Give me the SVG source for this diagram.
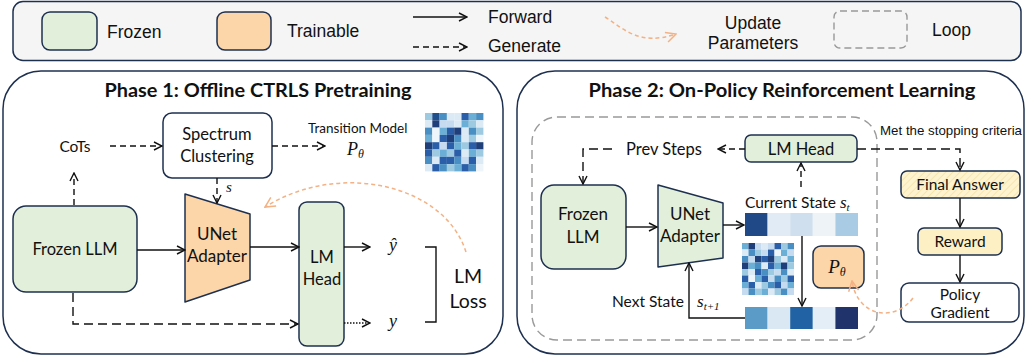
<svg xmlns="http://www.w3.org/2000/svg" width="1026" height="360" viewBox="0 0 1026 360">
<defs>
<style>
.nd{stroke:#1e3050;stroke-width:1.5}
.fr{fill:#e2efda}
.tr{fill:#fcd5a8}
.wh{fill:#ffffff}
.ln{fill:none;stroke:#111;stroke-width:1.4}
.da{fill:none;stroke:#111;stroke-width:1.4;stroke-dasharray:6 4}
.dl{fill:none;stroke:#111;stroke-width:1.4;stroke-dasharray:9 5}
.dot{fill:none;stroke:#111;stroke-width:1.4;stroke-dasharray:1.5 1.5}
.or{fill:none;stroke:#f4b183;stroke-width:1.5;stroke-dasharray:4 3}
.t{font-family:Lato,"Liberation Sans",sans-serif;fill:#111}
.lg{font-family:"Liberation Sans",sans-serif;font-size:17.5px;fill:#111}
.m{font-family:"Liberation Serif",serif;font-style:italic;fill:#111}
.ti{font-family:Lato,"Liberation Sans",sans-serif;font-weight:bold;font-size:18px;fill:#111}
</style>
<marker id="ah" viewBox="0 0 10 10" refX="9" refY="5" markerWidth="10" markerHeight="10" markerUnits="userSpaceOnUse" orient="auto">
<path d="M1,1 L9,5 L1,9" fill="none" stroke="#111" stroke-width="1.4"/>
</marker>
<marker id="oh" viewBox="0 0 12 12" refX="11" refY="6" markerWidth="12" markerHeight="12" markerUnits="userSpaceOnUse" orient="auto">
<path d="M1,1 L11,6 L1,11" fill="none" stroke="#f4b183" stroke-width="1.5"/>
</marker>
<pattern id="hatch" width="5" height="5" patternUnits="userSpaceOnUse" patternTransform="rotate(45)">
<rect width="5" height="5" fill="#fdf3cf"/>
<line x1="0" y1="0" x2="0" y2="5" stroke="#f3e2a6" stroke-width="1.5"/>
</pattern>
</defs>

<g id="legend">
<rect x="13" y="1.5" width="1008" height="59" rx="10" fill="#f5f5f5" stroke="#1e3050" stroke-width="1.5"/>
<rect x="42" y="12" width="55" height="38" rx="8" class="nd fr"/>
<text x="107" y="38" class="lg">Frozen</text>
<rect x="217" y="12" width="54" height="38" rx="8" class="nd tr"/>
<text x="287" y="37" class="lg">Trainable</text>
<line x1="413" y1="17" x2="467" y2="17" class="ln" marker-end="url(#ah)"/>
<text x="488" y="23" class="lg">Forward</text>
<line x1="413" y1="47" x2="467" y2="47" class="da" marker-end="url(#ah)"/>
<text x="488" y="52" class="lg">Generate</text>
<path d="M605,17 C625,30 640,46 676,34" class="or" marker-end="url(#oh)"/>
<text x="753" y="29" class="lg" text-anchor="middle">Update</text>
<text x="753" y="49" class="lg" text-anchor="middle">Parameters</text>
<rect x="834" y="11" width="73" height="37" rx="6" fill="none" stroke="#999" stroke-width="1.4" stroke-dasharray="7 4"/>
<text x="932" y="36" class="lg">Loop</text>
</g>

<g id="phase1">
<rect x="3" y="71" width="500" height="283" rx="38" fill="#fff" stroke="#1e3050" stroke-width="1.5"/>
<text x="258" y="97" class="ti" text-anchor="middle" textLength="307" lengthAdjust="spacingAndGlyphs">Phase 1: Offline CTRLS Pretraining</text>
</g>

<g id="phase2">
<rect x="517" y="71" width="507" height="283" rx="38" fill="#fff" stroke="#1e3050" stroke-width="1.5"/>
<text x="782" y="97" class="ti" text-anchor="middle" textLength="387" lengthAdjust="spacingAndGlyphs">Phase 2: On-Policy Reinforcement Learning</text>
<rect x="532" y="117" width="345" height="223" rx="25" fill="none" stroke="#999" stroke-width="1.4" stroke-dasharray="9 5"/>
</g>

<g id="cots"><text x="75" y="152" class="t" font-size="15.5" text-anchor="middle">CoTs</text></g>

<g id="spectrum">
<rect x="163" y="113" width="109" height="65" rx="9" class="nd wh"/>
<text x="217" y="140" class="t" font-size="16.5" text-anchor="middle">Spectrum</text>
<text x="217" y="162" class="t" font-size="16.5" text-anchor="middle">Clustering</text>
</g>

<g id="transition">
<text x="308" y="133" class="t" font-size="13.5">Transition Model</text>
<text x="347" y="155" class="m" font-size="18">P<tspan font-size="12" dy="3">θ</tspan></text>
</g>

<g id="heatmap1">
<rect x="425" y="113" width="7.3" height="7.3" fill="#9ecae1"/><rect x="432.3" y="113" width="7.3" height="7.3" fill="#1f4e8c"/><rect x="439.6" y="113" width="7.3" height="7.3" fill="#4a8fc4"/><rect x="446.9" y="113" width="7.3" height="7.3" fill="#dceaf6"/><rect x="454.2" y="113" width="7.3" height="7.3" fill="#dceaf6"/><rect x="461.5" y="113" width="7.3" height="7.3" fill="#2a5ea8"/><rect x="468.8" y="113" width="7.3" height="7.3" fill="#6baed6"/><rect x="476.1" y="113" width="7.3" height="7.3" fill="#4a8fc4"/>
<rect x="425" y="120.3" width="7.3" height="7.3" fill="#dceaf6"/><rect x="432.3" y="120.3" width="7.3" height="7.3" fill="#1f3f7a"/><rect x="439.6" y="120.3" width="7.3" height="7.3" fill="#c6dbef"/><rect x="446.9" y="120.3" width="7.3" height="7.3" fill="#c6dbef"/><rect x="454.2" y="120.3" width="7.3" height="7.3" fill="#dceaf6"/><rect x="461.5" y="120.3" width="7.3" height="7.3" fill="#6baed6"/><rect x="468.8" y="120.3" width="7.3" height="7.3" fill="#9ecae1"/><rect x="476.1" y="120.3" width="7.3" height="7.3" fill="#dceaf6"/>
<rect x="425" y="127.6" width="7.3" height="7.3" fill="#4a8fc4"/><rect x="432.3" y="127.6" width="7.3" height="7.3" fill="#eef5fb"/><rect x="439.6" y="127.6" width="7.3" height="7.3" fill="#6baed6"/><rect x="446.9" y="127.6" width="7.3" height="7.3" fill="#2a5ea8"/><rect x="454.2" y="127.6" width="7.3" height="7.3" fill="#1f3f7a"/><rect x="461.5" y="127.6" width="7.3" height="7.3" fill="#dceaf6"/><rect x="468.8" y="127.6" width="7.3" height="7.3" fill="#4a8fc4"/><rect x="476.1" y="127.6" width="7.3" height="7.3" fill="#9ecae1"/>
<rect x="425" y="134.9" width="7.3" height="7.3" fill="#6baed6"/><rect x="432.3" y="134.9" width="7.3" height="7.3" fill="#eef5fb"/><rect x="439.6" y="134.9" width="7.3" height="7.3" fill="#2a5ea8"/><rect x="446.9" y="134.9" width="7.3" height="7.3" fill="#1f3f7a"/><rect x="454.2" y="134.9" width="7.3" height="7.3" fill="#4a8fc4"/><rect x="461.5" y="134.9" width="7.3" height="7.3" fill="#dceaf6"/><rect x="468.8" y="134.9" width="7.3" height="7.3" fill="#9ecae1"/><rect x="476.1" y="134.9" width="7.3" height="7.3" fill="#eef5fb"/>
<rect x="425" y="142.2" width="7.3" height="7.3" fill="#1f3f7a"/><rect x="432.3" y="142.2" width="7.3" height="7.3" fill="#2a5ea8"/><rect x="439.6" y="142.2" width="7.3" height="7.3" fill="#c6dbef"/><rect x="446.9" y="142.2" width="7.3" height="7.3" fill="#2a5ea8"/><rect x="454.2" y="142.2" width="7.3" height="7.3" fill="#6baed6"/><rect x="461.5" y="142.2" width="7.3" height="7.3" fill="#9ecae1"/><rect x="468.8" y="142.2" width="7.3" height="7.3" fill="#2a5ea8"/><rect x="476.1" y="142.2" width="7.3" height="7.3" fill="#1f3f7a"/>
<rect x="425" y="149.5" width="7.3" height="7.3" fill="#2a5ea8"/><rect x="432.3" y="149.5" width="7.3" height="7.3" fill="#9ecae1"/><rect x="439.6" y="149.5" width="7.3" height="7.3" fill="#6baed6"/><rect x="446.9" y="149.5" width="7.3" height="7.3" fill="#9ecae1"/><rect x="454.2" y="149.5" width="7.3" height="7.3" fill="#2a5ea8"/><rect x="461.5" y="149.5" width="7.3" height="7.3" fill="#dceaf6"/><rect x="468.8" y="149.5" width="7.3" height="7.3" fill="#6baed6"/><rect x="476.1" y="149.5" width="7.3" height="7.3" fill="#9ecae1"/>
<rect x="425" y="156.8" width="7.3" height="7.3" fill="#4a8fc4"/><rect x="432.3" y="156.8" width="7.3" height="7.3" fill="#dceaf6"/><rect x="439.6" y="156.8" width="7.3" height="7.3" fill="#2a5ea8"/><rect x="446.9" y="156.8" width="7.3" height="7.3" fill="#2a5ea8"/><rect x="454.2" y="156.8" width="7.3" height="7.3" fill="#4a8fc4"/><rect x="461.5" y="156.8" width="7.3" height="7.3" fill="#c6dbef"/><rect x="468.8" y="156.8" width="7.3" height="7.3" fill="#2a5ea8"/><rect x="476.1" y="156.8" width="7.3" height="7.3" fill="#dceaf6"/>
<rect x="425" y="164.1" width="7.3" height="7.3" fill="#dceaf6"/><rect x="432.3" y="164.1" width="7.3" height="7.3" fill="#2a5ea8"/><rect x="439.6" y="164.1" width="7.3" height="7.3" fill="#4a8fc4"/><rect x="446.9" y="164.1" width="7.3" height="7.3" fill="#9ecae1"/><rect x="454.2" y="164.1" width="7.3" height="7.3" fill="#6baed6"/><rect x="461.5" y="164.1" width="7.3" height="7.3" fill="#2a5ea8"/><rect x="468.8" y="164.1" width="7.3" height="7.3" fill="#4a8fc4"/><rect x="476.1" y="164.1" width="7.3" height="7.3" fill="#eef5fb"/>
</g>

<g id="frozen-llm-1">
<rect x="13" y="206" width="124" height="86" rx="13" class="nd fr"/>
<text x="75" y="255" class="t" font-size="16.5" text-anchor="middle">Frozen LLM</text>
</g>

<g id="unet-1">
<path d="M185,194 L250,214 L250,280 L185,302 Z" class="nd tr" stroke-linejoin="round"/>
<text x="217" y="240" class="t" font-size="17" text-anchor="middle">UNet</text>
<text x="217" y="262" class="t" font-size="17" text-anchor="middle">Adapter</text>
</g>

<g id="lmhead-1">
<rect x="299" y="202" width="45" height="144" rx="8" class="nd fr"/>
<text x="322" y="263" class="t" font-size="16.5" text-anchor="middle">LM</text>
<text x="322" y="285" class="t" font-size="16.5" text-anchor="middle">Head</text>
</g>

<g id="outputs-1">
<text x="393" y="251" class="m" font-size="18" text-anchor="middle">ŷ</text>
<text x="393" y="327" class="m" font-size="18" text-anchor="middle">y</text>
<path d="M425,247 L436,247 L436,322 L425,322" class="ln"/>
<text x="468" y="283" class="t" font-size="19.5" text-anchor="middle">LM</text>
<text x="468" y="308" class="t" font-size="19.5" text-anchor="middle">Loss</text>
</g>

<g id="frozen-llm-2">
<rect x="541" y="185" width="85" height="84" rx="13" class="nd fr"/>
<text x="583" y="220" class="t" font-size="17" text-anchor="middle">Frozen</text>
<text x="583" y="243" class="t" font-size="17" text-anchor="middle">LLM</text>
</g>

<g id="unet-2">
<path d="M658,185 L723,203 L723,258 L658,267 Z" class="nd fr" stroke-linejoin="round"/>
<text x="690" y="220" class="t" font-size="17" text-anchor="middle">UNet</text>
<text x="690" y="242" class="t" font-size="17" text-anchor="middle">Adapter</text>
</g>

<g id="lmhead-2">
<rect x="745" y="135" width="112" height="27" rx="6" class="nd fr"/>
<text x="801" y="155" class="t" font-size="16.5" text-anchor="middle">LM Head</text>
</g>

<g id="prev-steps"><text x="664" y="155" class="t" font-size="16.5" text-anchor="middle">Prev Steps</text></g>

<g id="current-state">
<text x="745" y="208" class="t" font-size="15.5">Current State <tspan class="m" font-size="17">s</tspan><tspan class="m" font-size="11" dy="3">t</tspan></text>
<rect x="745" y="213" width="22.6" height="23" fill="#1f4a87"/>
<rect x="767.6" y="213" width="22.6" height="23" fill="#e1ebf5"/>
<rect x="790.2" y="213" width="22.6" height="23" fill="#cfdfee"/>
<rect x="812.8" y="213" width="22.6" height="23" fill="#eef3f8"/>
<rect x="835.4" y="213" width="22.6" height="23" fill="#a9cbe3"/>
</g>

<g id="heatmap2">
<rect x="742" y="243" width="6.5" height="6.5" fill="#6baed6"/><rect x="748.5" y="243" width="6.5" height="6.5" fill="#1f3f7a"/><rect x="755" y="243" width="6.5" height="6.5" fill="#c6dbef"/><rect x="761.5" y="243" width="6.5" height="6.5" fill="#dceaf6"/><rect x="768" y="243" width="6.5" height="6.5" fill="#c6dbef"/><rect x="774.5" y="243" width="6.5" height="6.5" fill="#2a5ea8"/><rect x="781" y="243" width="6.5" height="6.5" fill="#9ecae1"/><rect x="787.5" y="243" width="6.5" height="6.5" fill="#4a8fc4"/>
<rect x="742" y="249.5" width="6.5" height="6.5" fill="#dceaf6"/><rect x="748.5" y="249.5" width="6.5" height="6.5" fill="#4a8fc4"/><rect x="755" y="249.5" width="6.5" height="6.5" fill="#9ecae1"/><rect x="761.5" y="249.5" width="6.5" height="6.5" fill="#c6dbef"/><rect x="768" y="249.5" width="6.5" height="6.5" fill="#2a5ea8"/><rect x="774.5" y="249.5" width="6.5" height="6.5" fill="#eef5fb"/><rect x="781" y="249.5" width="6.5" height="6.5" fill="#6baed6"/><rect x="787.5" y="249.5" width="6.5" height="6.5" fill="#c6dbef"/>
<rect x="742" y="256" width="6.5" height="6.5" fill="#4a8fc4"/><rect x="748.5" y="256" width="6.5" height="6.5" fill="#c6dbef"/><rect x="755" y="256" width="6.5" height="6.5" fill="#1f3f7a"/><rect x="761.5" y="256" width="6.5" height="6.5" fill="#2a5ea8"/><rect x="768" y="256" width="6.5" height="6.5" fill="#1f3f7a"/><rect x="774.5" y="256" width="6.5" height="6.5" fill="#9ecae1"/><rect x="781" y="256" width="6.5" height="6.5" fill="#dceaf6"/><rect x="787.5" y="256" width="6.5" height="6.5" fill="#6baed6"/>
<rect x="742" y="262.5" width="6.5" height="6.5" fill="#1f3f7a"/><rect x="748.5" y="262.5" width="6.5" height="6.5" fill="#6baed6"/><rect x="755" y="262.5" width="6.5" height="6.5" fill="#4a8fc4"/><rect x="761.5" y="262.5" width="6.5" height="6.5" fill="#dceaf6"/><rect x="768" y="262.5" width="6.5" height="6.5" fill="#2a5ea8"/><rect x="774.5" y="262.5" width="6.5" height="6.5" fill="#6baed6"/><rect x="781" y="262.5" width="6.5" height="6.5" fill="#1f3f7a"/><rect x="787.5" y="262.5" width="6.5" height="6.5" fill="#9ecae1"/>
<rect x="742" y="269" width="6.5" height="6.5" fill="#9ecae1"/><rect x="748.5" y="269" width="6.5" height="6.5" fill="#dceaf6"/><rect x="755" y="269" width="6.5" height="6.5" fill="#2a5ea8"/><rect x="761.5" y="269" width="6.5" height="6.5" fill="#4a8fc4"/><rect x="768" y="269" width="6.5" height="6.5" fill="#9ecae1"/><rect x="774.5" y="269" width="6.5" height="6.5" fill="#c6dbef"/><rect x="781" y="269" width="6.5" height="6.5" fill="#4a8fc4"/><rect x="787.5" y="269" width="6.5" height="6.5" fill="#dceaf6"/>
<rect x="742" y="275.5" width="6.5" height="6.5" fill="#2a5ea8"/><rect x="748.5" y="275.5" width="6.5" height="6.5" fill="#eef5fb"/><rect x="755" y="275.5" width="6.5" height="6.5" fill="#6baed6"/><rect x="761.5" y="275.5" width="6.5" height="6.5" fill="#2a5ea8"/><rect x="768" y="275.5" width="6.5" height="6.5" fill="#c6dbef"/><rect x="774.5" y="275.5" width="6.5" height="6.5" fill="#4a8fc4"/><rect x="781" y="275.5" width="6.5" height="6.5" fill="#9ecae1"/><rect x="787.5" y="275.5" width="6.5" height="6.5" fill="#2a5ea8"/>
<rect x="742" y="282" width="6.5" height="6.5" fill="#6baed6"/><rect x="748.5" y="282" width="6.5" height="6.5" fill="#2a5ea8"/><rect x="755" y="282" width="6.5" height="6.5" fill="#dceaf6"/><rect x="761.5" y="282" width="6.5" height="6.5" fill="#9ecae1"/><rect x="768" y="282" width="6.5" height="6.5" fill="#4a8fc4"/><rect x="774.5" y="282" width="6.5" height="6.5" fill="#2a5ea8"/><rect x="781" y="282" width="6.5" height="6.5" fill="#c6dbef"/><rect x="787.5" y="282" width="6.5" height="6.5" fill="#6baed6"/>
<rect x="742" y="288.5" width="6.5" height="6.5" fill="#c6dbef"/><rect x="748.5" y="288.5" width="6.5" height="6.5" fill="#4a8fc4"/><rect x="755" y="288.5" width="6.5" height="6.5" fill="#9ecae1"/><rect x="761.5" y="288.5" width="6.5" height="6.5" fill="#6baed6"/><rect x="768" y="288.5" width="6.5" height="6.5" fill="#dceaf6"/><rect x="774.5" y="288.5" width="6.5" height="6.5" fill="#9ecae1"/><rect x="781" y="288.5" width="6.5" height="6.5" fill="#4a8fc4"/><rect x="787.5" y="288.5" width="6.5" height="6.5" fill="#c6dbef"/>
</g>

<g id="p-theta-box">
<rect x="813" y="246" width="51" height="42" rx="8" class="nd tr"/>
<text x="837" y="273" class="m" font-size="19" text-anchor="middle">P<tspan font-size="12" dy="3">θ</tspan></text>
</g>

<g id="next-state">
<text x="612" y="307" class="t" font-size="15.5">Next State</text>
<text x="697" y="307" class="m" font-size="17">s<tspan font-size="11" dy="3">t+1</tspan></text>
<rect x="745" y="307" width="22.6" height="22" fill="#5b9bc8"/>
<rect x="767.6" y="307" width="22.6" height="22" fill="#dae8f4"/>
<rect x="790.2" y="307" width="22.6" height="22" fill="#2162a4"/>
<rect x="812.8" y="307" width="22.6" height="22" fill="#e4eef7"/>
<rect x="835.4" y="307" width="22.6" height="22" fill="#20336a"/>
</g>

<g id="stop-label"><text x="880" y="135" font-family="Liberation Sans, sans-serif" font-size="13.5" fill="#111" textLength="142" lengthAdjust="spacingAndGlyphs">Met the stopping criteria</text></g>

<g id="final-answer">
<rect x="901" y="171" width="119" height="27" rx="6" fill="url(#hatch)" class="nd"/>
<text x="960" y="190" class="t" font-size="15.5" text-anchor="middle">Final Answer</text>
</g>

<g id="reward">
<rect x="918" y="228" width="84" height="27" rx="6" fill="#fdf0c4" class="nd"/>
<text x="960" y="247" class="t" font-size="15.5" text-anchor="middle">Reward</text>
</g>

<g id="policy-gradient">
<rect x="901" y="283" width="118" height="39" rx="8" class="nd wh"/>
<text x="960" y="300" class="t" font-size="15.5" text-anchor="middle">Policy</text>
<text x="960" y="318" class="t" font-size="15.5" text-anchor="middle">Gradient</text>
</g>

<g id="connectors">
<line x1="110" y1="146" x2="162" y2="146" class="da" marker-end="url(#ah)"/>
<line x1="272" y1="146" x2="325" y2="146" class="da" marker-end="url(#ah)"/>
<line x1="74" y1="205" x2="74" y2="173" class="da" marker-end="url(#ah)"/>
<line x1="217" y1="178" x2="217" y2="203" class="da" marker-end="url(#ah)"/>
<text x="226" y="192" class="m" font-size="15">s</text>
<line x1="137" y1="250" x2="185" y2="250" class="ln" marker-end="url(#ah)"/>
<line x1="250" y1="247" x2="299" y2="247" class="ln" marker-end="url(#ah)"/>
<line x1="344" y1="247" x2="370" y2="247" class="ln" marker-end="url(#ah)"/>
<line x1="344" y1="323" x2="370" y2="323" class="dot" marker-end="url(#ah)"/>
<path d="M73,293 L73,324 L298,324" class="dl" marker-end="url(#ah)"/>
<path d="M466,252 C445,185 340,160 265,207" class="or" marker-end="url(#oh)"/>

<line x1="745" y1="149" x2="718" y2="149" class="da" marker-end="url(#ah)"/>
<path d="M612,149 L583,149 L583,184" class="dl" marker-end="url(#ah)"/>
<line x1="626" y1="227" x2="657" y2="227" class="ln" marker-end="url(#ah)"/>
<line x1="723" y1="225" x2="744" y2="225" class="ln" marker-end="url(#ah)"/>
<line x1="801" y1="187" x2="801" y2="163" class="da" marker-end="url(#ah)"/>
<line x1="802" y1="236" x2="802" y2="306" class="ln" marker-end="url(#ah)"/>
<path d="M745,318 L689,318 L689,263" class="ln" marker-end="url(#ah)"/>
<path d="M857,149 L960,149 L960,170" class="dl" marker-end="url(#ah)"/>
<line x1="960" y1="198" x2="960" y2="227" class="ln" marker-end="url(#ah)"/>
<line x1="960" y1="255" x2="960" y2="282" class="ln" marker-end="url(#ah)"/>
<path d="M913,298 C895,322 858,318 852,281" class="or" marker-end="url(#oh)"/>
</g>
</svg>
